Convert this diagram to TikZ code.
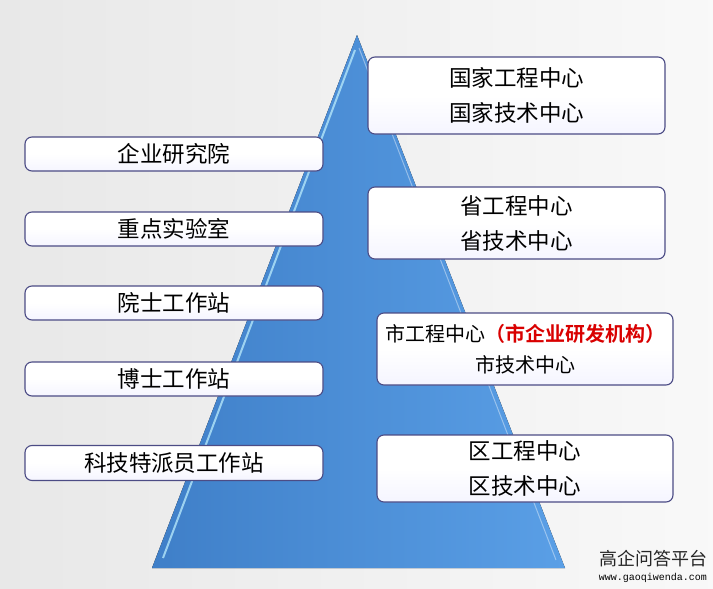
\documentclass[tikz,border=0pt]{standalone}
\usepackage{fontspec}
\newfontfamily\cjk{Noto Sans CJK SC}
\newfontfamily\cjkb[BoldFont={* Bold}]{Noto Sans CJK SC}
\setmonofont{Liberation Mono}
\usetikzlibrary{shadings}
\definecolor{pyrA}{HTML}{3F7FC8}
\definecolor{pyrB}{HTML}{5A9FE6}
\begin{document}
\begin{tikzpicture}[x=1pt,y=-1pt,
  box/.style={draw=black!45!blue!40!gray,line width=1.1pt,rounded corners=7pt,top color=white,bottom color=blue!4!white,middle color=white,font=\cjk\fontsize{22.5}{35}\selectfont,align=center,inner sep=0pt},
]
\shade[top color=gray!8,bottom color=gray!22,left color=gray!18,right color=gray!5] (0,0) rectangle (713,589);
\useasboundingbox (0,0) rectangle (713,589);
% pyramid
\fill[left color=pyrA,right color=pyrB] (357,35) -- (565,568) -- (152,568) -- cycle;
\draw[cyan!30,line width=2pt,opacity=0.8] (163,558) -- (355,50);
\draw[white,line width=1pt,opacity=0.4] (359,48) -- (556,560);
% left boxes
\node[box,minimum width=298pt,minimum height=34pt] (a) at (174,154) {企业研究院};
\node[box,minimum width=298pt,minimum height=34pt] (b) at (174,229) {重点实验室};
\node[box,minimum width=298pt,minimum height=34pt] (c) at (174,303) {院士工作站};
\node[box,minimum width=298pt,minimum height=34pt] (d) at (174,379) {博士工作站};
\node[box,minimum width=298pt,minimum height=35pt] (e) at (174,463) {科技特派员工作站};
% right boxes
\node[box,minimum width=297pt,minimum height=77pt] (f) at (516.5,95.5) {国家工程中心\\国家技术中心};
\node[box,minimum width=297pt,minimum height=72pt] (g) at (516.5,223) {省工程中心\\省技术中心};
\node[box,minimum width=296pt,minimum height=72pt,font=\cjk\fontsize{20}{31}\selectfont] (h) at (525,349) {市工程中心{\cjkb\bfseries\color{red!85!black}（市企业研发机构）}\\市技术中心};
\node[box,minimum width=296pt,minimum height=67pt] (i) at (525,468.5) {区工程中心\\区技术中心};
% watermark
\node[font=\cjk\fontsize{18}{18}\selectfont,text=black!85] (w1) at (653,559) {高企问答平台};
\node[font=\ttfamily\fontsize{10}{10}\selectfont] (w2) at (653,578) {www.gaoqiwenda.com};
\end{tikzpicture}
\end{document}
